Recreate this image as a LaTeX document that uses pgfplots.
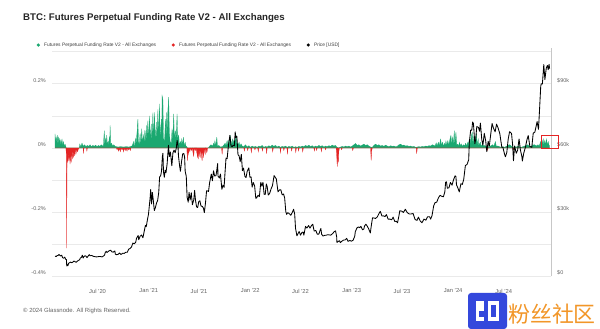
\documentclass[border=0pt]{standalone}
\usepackage{pgfplots}
\usepackage{pgfplotstable}
\pgfplotsset{compat=1.18}
\usepackage{fontspec}
\setmainfont{Liberation Sans}
\newfontfamily\cjk{Noto Sans CJK SC}
\definecolor{gr}{RGB}{26,168,112}
\definecolor{rd}{RGB}{228,36,36}
\definecolor{gridc}{RGB}{234,234,234}
\definecolor{lab}{RGB}{100,100,100}
\definecolor{wmblue}{RGB}{52,72,220}
\definecolor{wmorange}{RGB}{242,150,40}

% day index = days since 2020-01-01 ; funding rate in %
\pgfplotstableread{
d r
29 0
29 0.044
31 0.015
33 0.035
35 0.012
37 0.04
39 0.01
41 0.035
43 0.008
45 0.03
47 0.01
50 0.025
52 0.006
54 0.028
56 0.008
59 0.02
62 0.005
65 0.012
68 0.004
69 0
116 0
118 0.012
122 0.004
126 0.015
130 0.005
135 0.01
140 0.004
145 0.008
150 0.005
155 0.01
160 0.004
165 0.008
170 0.005
175 0.009
180 0.004
185 0.008
190 0.005
195 0.01
200 0.006
203 0.008
206 0.054
208 0.01
211 0.03
213 0.008
215 0.04
217 0.01
220 0.02
222 0.006
224 0.035
226 0.015
227 0.07
229 0.012
232 0.015
236 0.006
240 0.01
245 0.005
250 0.004
255 0.003
265 0.004
275 0.003
285 0.004
295 0.003
305 0.006
308 0.01
311 0.02
313 0.006
315 0.01
318 0.03
320 0.008
324 0.05
327 0.09
329 0.02
332 0.01
335 0.045
338 0.01
341 0.06
343 0.015
347 0.04
350 0.012
352 0.055
355 0.015
357 0.07
359 0.02
363 0.085
365 0.02
369 0.1
371 0.025
375 0.075
377 0.015
381 0.11
383 0.03
387 0.111
389 0.015
393 0.08
395 0.02
399 0.12
401 0.03
405 0.137
407 0.02
411 0.09
413 0.04
414 0.163
417 0.15
419 0.03
423 0.02
426 0.09
428 0.04
429 0.111
431 0.03
435 0.12
438 0.158
440 0.05
443 0.02
447 0.015
450 0.06
452 0.02
456 0.106
458 0.03
462 0.054
464 0.02
468 0.106
470 0.03
474 0.04
476 0.01
481 0.02
483 0.008
485 0.03
487 0.008
491 0.034
493 0.006
497 0.018
500 0.006
503 0.004
505 0
580 0
585 0.006
590 0.01
595 0.006
600 0.015
602 0.005
604 0.023
607 0.006
611 0.034
613 0.006
618 0.008
622 0.004
626 0.003
632 0.005
637 0.01
641 0.015
644 0.006
648 0.023
651 0.008
656 0.03
658 0.01
660 0.039
662 0.01
667 0.028
669 0.008
671 0.023
674 0.008
678 0.03
681 0.039
683 0.01
687 0.015
689 0.006
691 0.018
694 0.006
698 0.013
702 0.006
708 0.004
714 0.01
720 0.003
726 0.007
732 0.002
738 0.006
744 0.003
750 0.005
756 0.002
762 0.006
768 0.004
774 0.008
780 0.002
786 0.005
792 0.003
798 0.007
804 0.004
810 0.009
816 0.005
822 0.008
828 0.003
834 0.006
840 0.002
846 0.005
852 0.003
858 0.006
864 0.002
870 0.005
876 0.003
882 0.006
888 0.002
894 0.004
900 0.002
906 0.005
912 0.003
918 0.006
924 0.004
930 0.008
936 0.005
942 0.009
948 0.004
954 0.007
960 0.003
966 0.006
972 0.004
978 0.008
984 0.005
990 0.007
996 0.003
1002 0.006
1008 0.004
1014 0.007
1020 0.005
1026 0.009
1032 0.006
1038 0.008
1043 0.002
1050 0
1056 0.003
1062 0.005
1068 0.003
1074 0.006
1080 0.004
1086 0.006
1092 0.003
1098 0.006
1104 0.01
1110 0.014
1116 0.008
1122 0.01
1128 0.006
1134 0.009
1140 0.012
1146 0.008
1152 0.01
1158 0.006
1164 0.003
1170 0.002
1176 0.008
1182 0.012
1188 0.008
1194 0.01
1200 0.006
1206 0.008
1212 0.005
1218 0.009
1224 0.006
1230 0.004
1236 0.007
1242 0.005
1248 0.006
1254 0.004
1260 0.005
1266 0.01
1272 0.012
1278 0.008
1284 0.009
1290 0.006
1296 0.007
1302 0.005
1308 0.006
1314 0.004
1320 0.005
1326 0.002
1332 0.003
1338 0.004
1344 0.003
1350 0.005
1356 0.004
1362 0.006
1368 0.005
1374 0.007
1380 0.006
1386 0.01
1392 0.008
1396 0.006
1400 0.016
1403 0.006
1408 0.018
1411 0.006
1416 0.028
1419 0.008
1423 0.018
1426 0.006
1431 0.015
1433 0.006
1435 0.022
1438 0.008
1442 0.023
1445 0.008
1450 0.03
1453 0.039
1456 0.01
1459 0.034
1462 0.01
1465 0.054
1467 0.012
1471 0.049
1474 0.01
1478 0.012
1481 0.005
1484 0.018
1486 0.006
1490 0.013
1494 0.005
1498 0.01
1502 0.006
1506 0.015
1510 0.006
1514 0.018
1516 0.006
1518 0.022
1520 0.008
1522 0.03
1524 0.01
1527 0.04
1530 0.049
1532 0.012
1536 0.039
1538 0.01
1542 0.034
1545 0.044
1547 0.01
1551 0.028
1553 0.008
1559 0.018
1561 0.006
1567 0.012
1571 0.005
1575 0.008
1580 0.004
1585 0.006
1591 0.003
1597 0.007
1603 0.01
1607 0.005
1610 0.012
1613 0.02
1616 0.006
1622 0.006
1628 0.004
1634 0.002
1640 0.004
1646 0.002
1652 0.005
1658 0.008
1664 0.01
1670 0.006
1676 0.002
1682 0.004
1688 0.003
1694 0.005
1700 0.004
1706 0.002
1712 0.004
1718 0.006
1724 0.008
1730 0.01
1736 0.005
1742 0.006
1748 0.009
1754 0.01
1760 0.006
1766 0.01
1770 0.006
1773 0.012
1776 0.02
1778 0.008
1782 0.018
1785 0.028
1787 0.01
1791 0.024
1793 0.008
1797 0.028
1799 0.01
1803 0.02
1806 0.008
1808 0.008
1808 0
}\fundpos

\pgfplotstableread{
d r
29 0
68 0
69.5 -0.02
71 -0.312
72 -0.05
73.5 -0.02
75 -0.045
77 -0.015
79 -0.04
81 -0.012
83 -0.05
85 -0.02
87 -0.045
89 -0.012
91 -0.035
93 -0.008
95 -0.03
97 -0.006
99 -0.025
101 -0.004
104 -0.02
107 -0.004
110 -0.012
113 -0.003
116 0
130 0
131.5 -0.018
133 0
142 0
143.5 -0.01
145 0
250 0
252 -0.006
254 0
258 -0.01
260 0
264 -0.012
266 0
270 -0.006
272 0
276 -0.012
278 0
282 -0.008
284 0
288 -0.01
290 0
294 -0.006
296 0
300 -0.008
302 0
503 0
505 -0.04
507 -0.004
509 -0.02
511 -0.003
514 -0.012
516 0
520 -0.008
523 0
526 -0.02
528 -0.026
530 0
534 -0.008
536 0
540 -0.02
542 -0.03
544 -0.004
546 -0.035
548 -0.005
551 -0.03
553 -0.003
556 -0.025
558 -0.04
560 -0.005
563 -0.03
565 -0.003
569 -0.02
571 0
575 -0.015
578 0
628 0
630 -0.02
632 0
708 0
710 -0.01
712 0
720 0
722 -0.008
724 0
733 0
735 -0.015
737 0
746 0
748 -0.006
750 0
758 0
760 -0.012
762 0
773 0
775 -0.01
777 0
788 0
790 -0.018
792 0
810 0
812 -0.012
814 0
838 0
840 -0.015
842 0
850 0
852 -0.008
854 0
863 0
865 -0.02
867 0
878 0
880 -0.01
882 0
893 0
895 -0.014
897 0
903 0
905 -0.01
907 0
918 0
920 -0.012
922 0
960 0
962 -0.01
964 0
968 0
970 -0.008
972 0
985 0
987 -0.012
989 0
1000 0
1002 -0.006
1004 0
1040 0
1042 -0.02
1044 -0.058
1046 -0.03
1048 -0.045
1050 -0.01
1052 0
1058 0
1060 -0.006
1062 0
1098 0
1100 -0.008
1102 0
1164 0
1166 -0.039
1168 -0.01
1170 0
1328 0
1330 -0.018
1332 0
1583 0
1585 -0.008
1587 0
1676 0
1678 -0.006
1680 0
1808 0
}\fundneg

\pgfplotstableread{
d p
29 9500
33 9300
37 9800
40 9850
43 10250
46 9900
49 9600
53 9950
56 8800
60 8550
64 9050
67 8050
70 7900
71 4950
72 5600
75 5000
78 6200
82 6500
85 6750
89 6400
93 6750
97 7200
101 6900
105 6650
109 7150
113 7500
117 7750
120 8650
124 8900
127 9950
130 8600
133 9300
137 9700
140 9500
144 8800
148 9550
152 10200
156 9650
161 9850
166 9450
171 9300
177 9150
182 9200
187 9350
193 9300
198 9150
203 9550
207 9950
209 11000
213 11800
216 11200
222 11900
229 12300
233 11550
238 11350
244 11900
246 10400
250 10150
256 10350
261 10950
266 10250
272 10850
278 10800
283 11300
289 11350
294 12800
299 13050
304 13800
309 15600
314 15300
319 15950
322 17800
328 19150
330 17150
335 18800
340 19350
345 18050
350 21300
354 23850
357 23250
361 26300
365 29000
368 32800
371 36800
373 40600
376 33900
379 39200
382 36000
386 30800
390 32200
394 34300
398 35500
402 39300
405 46400
409 47100
412 49200
415 55900
417 57500
419 48900
422 46300
425 49600
428 48400
432 52400
437 61200
440 56000
444 58100
449 51700
453 57700
457 59000
461 57800
465 59800
468 63500
471 61300
473 56200
477 51700
480 49100
484 53600
488 57200
492 57400
495 55800
497 49200
501 46700
504 37000
508 34700
511 39300
515 35700
519 39100
523 33500
528 35800
531 40200
534 35800
538 32500
542 32200
546 35000
550 35300
554 32900
559 32700
563 31800
566 29800
570 34200
574 40000
578 39900
581 39700
585 43800
591 47800
595 44700
599 49300
603 46900
608 47100
614 52700
615 46900
620 46000
624 47800
629 40700
633 42700
637 41600
640 47700
644 55300
648 55000
653 61600
658 65900
662 61000
666 60600
670 61300
674 61000
677 67500
679 64900
683 65400
687 56900
691 56300
695 53600
699 57000
703 49400
707 50600
712 46700
716 46200
720 49000
726 50700
730 46300
734 46500
738 41700
742 43900
747 42200
751 36500
754 36700
759 37900
764 37300
769 44000
773 42200
777 44000
781 38400
785 38300
789 43200
792 42000
796 38000
801 38800
806 40900
811 42400
817 47100
821 46300
825 45500
831 39500
836 40400
841 40500
846 38100
851 38500
855 36600
859 30300
862 29000
866 29800
871 29400
877 28600
882 29800
887 31400
891 29100
894 22500
899 19000
903 20000
907 21000
912 19300
917 20500
921 20800
924 19300
930 23400
935 22600
941 23800
946 22600
952 23900
956 24400
961 21200
967 21500
972 19800
978 19800
982 21400
985 22400
988 19700
993 18900
999 19200
1005 19300
1010 19500
1016 19400
1021 19300
1028 20100
1032 20800
1038 21300
1042 18500
1043 15900
1047 16300
1052 16700
1055 15800
1061 16500
1067 17000
1073 17100
1078 17800
1083 16400
1089 16800
1095 16500
1101 16900
1107 18800
1109 20900
1115 22700
1120 23100
1125 22800
1129 23400
1135 21800
1140 22200
1142 23500
1147 24400
1152 23500
1157 22300
1163 20300
1167 24100
1171 27400
1176 27300
1182 27100
1188 27800
1195 29600
1199 30400
1205 28200
1210 28300
1216 28000
1221 28900
1227 26800
1233 26800
1240 26500
1245 27700
1251 25700
1256 25800
1261 25100
1266 28300
1269 30700
1276 30500
1282 29900
1289 31400
1296 29800
1303 29200
1310 29200
1317 29400
1324 26600
1331 26200
1336 27700
1343 25800
1349 25100
1356 26800
1363 26300
1369 27900
1376 27900
1380 26800
1385 28400
1391 33000
1396 34500
1402 34700
1408 36700
1414 37900
1419 37500
1426 37200
1431 39500
1434 44000
1437 44200
1440 41200
1446 41400
1451 43900
1457 42600
1462 45000
1468 47000
1471 46600
1473 42800
1478 41300
1483 39500
1489 43300
1494 43000
1499 45300
1505 51800
1511 52300
1517 54500
1519 62400
1524 68300
1528 68300
1531 72100
1534 71400
1539 62000
1542 63800
1546 70000
1552 69600
1556 67800
1559 71600
1564 63900
1568 61300
1573 66800
1578 63400
1582 58300
1587 63100
1591 60800
1596 66200
1601 71400
1606 69300
1612 67500
1617 71100
1622 69600
1629 66600
1636 60300
1640 60300
1646 57000
1649 55900
1654 57900
1659 64100
1664 67600
1671 66800
1675 61400
1678 54000
1682 60900
1688 57500
1693 59000
1698 64200
1703 59000
1708 56200
1710 53900
1715 57600
1721 60300
1726 63600
1731 65800
1737 60700
1744 60300
1749 66900
1755 67400
1763 72300
1768 68700
1771 75900
1776 88700
1778 90000
1782 89800
1787 98900
1791 91900
1796 97300
1800 98500
1803 96500
1806 99000
1808 97000
}\price

\begin{document}
\begin{tikzpicture}
\useasboundingbox (0bp,0bp) rectangle (600bp,329bp);
\fill[white] (0bp,0bp) rectangle (600bp,329bp);

\node[anchor=west, inner sep=0pt, font=\fontsize{9.7}{11}\selectfont\bfseries, text=black!85] at (23bp,310.5bp) {BTC: Futures Perpetual Funding Rate V2 - All Exchanges};
\node[anchor=west, inner sep=0pt, font=\fontsize{6}{7}\selectfont, text=lab] at (23bp,18bp) {\textcopyright{} 2024 Glassnode. All Rights Reserved.};

% funding rate axis (left)
\begin{axis}[
  at={(52bp,52.5bp)}, anchor=south west,
  scale only axis, width=499bp, height=228.5bp,
  xmin=18, xmax=1813, ymin=-0.4, ymax=0.311,
  axis line style={draw=none},
  major tick length=0pt,
  ytick={-0.4,-0.3,-0.2,-0.1,0,0.1,0.2,0.3},
  yticklabels={-0.4\%,,-0.2\%,,0\%,,0.2\%,},
  ymajorgrids, grid style={gridc, line width=0.6bp},
  yticklabel style={font=\fontsize{5.5}{6}\selectfont, text=lab, inner sep=0pt, anchor=east, xshift=-6bp, yshift=3.5bp},
  xtick={182,366,547,731,912,1096,1277,1461,1643},
  xticklabels={Jul '20,Jan '21,Jul '21,Jan '22,Jul '22,Jan '23,Jul '23,Jan '24,Jul '24},
  xticklabel style={font=\fontsize{5.8}{6}\selectfont, text=lab, inner sep=0pt, anchor=center, yshift=-14.5bp},
  legend image code/.code={\fill[#1] (0bp,0bp) circle (1.4bp);},
  legend style={at={(-0.031,1.013)}, anchor=west, draw=none, fill=none, inner sep=0pt,
    font=\fontsize{4.9}{5}\selectfont, text=black!75, legend columns=3,
    /tikz/every odd column/.append style={column sep=2.2bp},
    /tikz/every even column/.append style={column sep=13.5bp}},
]
\addlegendimage{gr}
\addlegendentry{Futures Perpetual Funding Rate V2 - All Exchanges}
\addlegendimage{rd}
\addlegendentry{Futures Perpetual Funding Rate V2 - All Exchanges}
\addlegendimage{black}
\addlegendentry{Price [USD]}
\addplot[forget plot, fill=gr, draw=gr, line width=0.2bp] table[x=d, y=r] {\fundpos} \closedcycle;
\addplot[forget plot, fill=rd, draw=rd, line width=0.2bp] table[x=d, y=r] {\fundneg} \closedcycle;
\end{axis}

% price axis (right)
\begin{axis}[
  at={(52bp,52.5bp)}, anchor=south west,
  scale only axis, width=499bp, height=228.5bp,
  xmin=18, xmax=1813, ymin=0, ymax=106650,
  axis line style={draw=none},
  major tick length=0pt,
  xtick=\empty,
  scaled y ticks=false,
  ytick={0,30000,60000,90000},
  yticklabels={\$0,\$30k,\$60k,\$90k},
  yticklabel pos=right,
  yticklabel style={font=\fontsize{5.5}{6}\selectfont, text=lab, inner sep=0pt, anchor=west, xshift=6bp, yshift=3.5bp},
  clip=false,
]
\draw[black!22, line width=0.6bp] (rel axis cs:1,0) -- (rel axis cs:1,1);
\addplot[black, line width=0.85bp, line join=round] table[x=d, y=p] {\price};
\draw[rd, line width=1bp] (axis cs:1780,59800) rectangle (axis cs:1839,65800);
\end{axis}

% watermark
\fill[wmblue, rounded corners=3bp] (468bp,0bp) rectangle (507bp,36bp);
\fill[white] (476bp,8bp) rectangle (484bp,28bp);
\fill[white] (488bp,8bp) rectangle (499bp,28bp);
\fill[wmblue] (479bp,12bp) rectangle (484bp,18bp);
\fill[wmblue] (491bp,12bp) rectangle (496bp,24bp);
\node[anchor=west, inner sep=0pt, font=\cjk\fontsize{22}{24}\selectfont, text=wmorange] at (508bp,15bp) {粉丝社区};
\end{tikzpicture}
\end{document}
